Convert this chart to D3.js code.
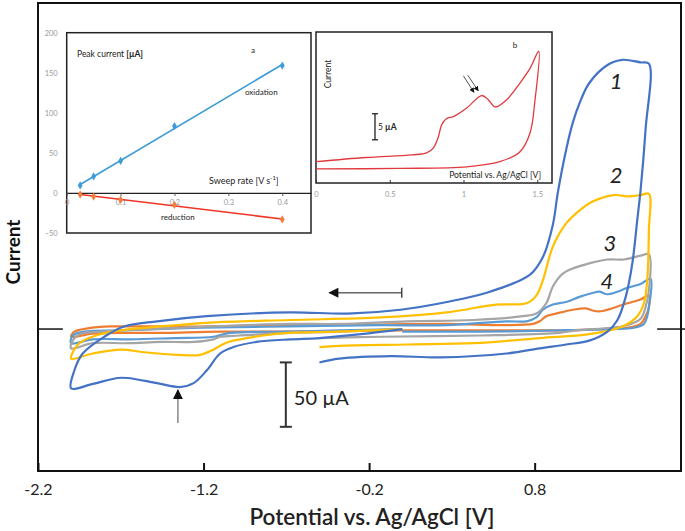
<!DOCTYPE html>
<html>
<head>
<meta charset="utf-8">
<script src="https://cdn.jsdelivr.net/npm/d3@7"></script>
<style>
  body { margin: 0; background: #fff; }
  svg { display: block; font-family: Lato, 'Open Sans', sans-serif; }
</style>
</head>
<body>
<svg id="chart" width="685" height="531"></svg>
<script>
// main voltammograms, [potential V, current uA]
const cv1 = [[0, 0], [-0.25, -4], [-0.5, -7], [-0.68, -8], [-0.88, -10], [-1.02, -14], [-1.10, -19], [-1.18, -32], [-1.26, -42], [-1.34, -45], [-1.48, -42], [-1.66, -38], [-1.72, -38], [-1.88, -43], [-2.0, -46], [-1.98, -32], [-1.93, -19], [-1.80, -6], [-1.68, 2], [-1.48, 6], [-1.18, 10], [-0.68, 13], [-0.33, 12], [-0.01, 15], [0.27, 21], [0.53, 29], [0.77, 42], [0.85, 56], [0.91, 81], [0.94, 106], [0.99, 139], [1.03, 160], [1.07, 175], [1.13, 191], [1.24, 205], [1.33, 209], [1.44, 207], [1.49, 206], [1.47, 155], [1.44, 108], [1.42, 85], [1.39, 51], [1.35, 25], [1.30, 7], [1.24, -2], [1.13, -9], [0.99, -12], [0.83, -15], [0.63, -19], [0.23, -22], [-0.07, -21], [-0.38, -23], [-0.5, -26]];
const cv2 = [[0, 0], [-0.38, -2], [-0.68, -3], [-0.84, -5], [-0.98, -8], [-1.05, -10], [-1.10, -13], [-1.14, -16], [-1.22, -20], [-1.36, -20], [-1.56, -18], [-1.70, -16], [-1.87, -19], [-2.0, -23], [-1.99, -18], [-1.95, -11], [-1.85, -5], [-1.70, -1], [-1.46, 2], [-1.16, 5], [-0.68, 7], [-0.13, 9], [0.27, 13], [0.57, 19], [0.75, 20], [0.81, 26], [0.85, 38], [0.91, 64], [0.99, 82], [1.07, 92], [1.15, 99], [1.28, 104], [1.36, 103], [1.44, 104], [1.49, 105], [1.49, 77], [1.48, 38], [1.46, 20], [1.42, 10], [1.33, 2], [1.13, -4], [0.83, -7], [0.43, -11], [0.03, -12], [-0.38, -13], [-0.5, -14]];
const cv3 = [[0, 0], [-0.38, -2], [-0.68, -3], [-0.98, -5], [-1.10, -6], [-1.14, -8], [-1.26, -10], [-1.46, -10], [-1.66, -11], [-1.87, -11], [-2.0, -15], [-1.99, -9], [-1.95, -4], [-1.82, -2], [-1.52, 0], [-1.16, 2], [-0.68, 4], [-0.38, 4], [0.03, 6], [0.43, 7], [0.73, 10], [0.81, 12], [0.87, 20], [0.91, 33], [0.97, 43], [1.03, 47], [1.13, 51], [1.24, 54], [1.34, 54], [1.44, 57], [1.49, 58], [1.49, 30], [1.47, 17], [1.44, 8], [1.36, 3], [1.26, 1], [1.05, -1], [0.95, -3], [0.47, -5], [-0.13, -6], [-0.5, -7]];
const cv4 = [[0, 0], [-0.38, -1], [-0.68, -2], [-1.04, -3], [-1.14, -6], [-1.38, -7], [-1.64, -8], [-1.87, -8], [-2.0, -11], [-1.99, -5], [-1.92, -2], [-1.70, -1], [-1.22, 1], [-0.68, 2], [-0.13, 3], [0.27, 3], [0.63, 6], [0.75, 6], [0.81, 9], [0.85, 15], [0.91, 19], [0.99, 21], [1.07, 25], [1.15, 28], [1.19, 29], [1.24, 27], [1.30, 29], [1.36, 32], [1.44, 35], [1.50, 39], [1.49, 17], [1.48, 10], [1.46, 4], [1.40, 1], [1.26, 0], [0.95, -1], [0.47, -2], [0.0, -2]];
const cv5 = [[0, -1], [-0.68, -2], [-1.10, -2], [-1.46, -3], [-1.87, -3.5], [-2.0, -6], [-1.98, -2], [-1.90, 0.5], [-1.76, 2], [-1.56, 2], [-1.18, 2], [-0.68, 3], [-0.13, 3.5], [0.27, 4], [0.63, 3], [0.79, 4], [0.83, 6], [0.87, 10], [0.93, 12], [1.03, 15], [1.11, 16], [1.16, 14], [1.21, 14], [1.36, 20], [1.44, 23], [1.49, 26], [1.49, 17], [1.47, 10], [1.44, 4], [1.36, 1], [1.19, 0], [0.95, -1], [0.47, -1], [0.0, -1]];
const cvColors = ['#4472c4', '#ffc000', '#a5a5a5', '#5b9bd5', '#ed7d31'];
const cvLabels = ['1', '2', '3', '4'];
const potentialTicks = [-2.2, -1.2, -0.2, 0.8];

// inset a: peak current vs sweep rate
const sweepRates = [0.025, 0.05, 0.1, 0.2, 0.4];
const oxidationPeaks = [9.4, 20.6, 40, 83.5, 159];
const reductionPeaks = [-2, -4.5, -8.5, -15, -33];
const sweepTicks = [0, 0.1, 0.2, 0.3, 0.4];
const peakTicks = [-50, 0, 50, 100, 150, 200];

// inset b: single scan
const insetScan = [[0, 4.1], [0.34, 4.9], [0.65, 5.4], [0.75, 5.8], [0.795, 6.7], [0.83, 8.9], [0.852, 11.2], [0.886, 12.4], [0.931, 12.75], [1.022, 14.4], [1.123, 16.8], [1.168, 16], [1.214, 14.6], [1.293, 16], [1.383, 19.2], [1.453, 22.1], [1.51, 25.3], [1.485, 16], [1.451, 9.6], [1.383, 6], [1.247, 4.1], [1.022, 3.1], [0.569, 2.8], [0, 2.7]];
const insetTicks = [0, 0.5, 1, 1.5];

const svg = d3.select('#chart');

const defs = svg.append('defs');
[['head', 5, 5], ['headBig', 13, 10]].forEach(([id, w, h]) => {
  defs.append('marker')
    .attr('id', id)
    .attr('viewBox', '0 0 10 10')
    .attr('refX', 9)
    .attr('refY', 5)
    .attr('markerWidth', w)
    .attr('markerHeight', h)
    .attr('markerUnits', 'userSpaceOnUse')
    .attr('orient', 'auto')
    .append('path')
    .attr('d', 'M0,0L10,5L0,10z')
    .attr('fill', '#111');
});

const x = d3.scaleLinear().domain([-2.2, 1.684]).range([38, 681]);
const y = d3.scaleLinear().domain([-110.2, 253.1]).range([471, 3]);

svg.append('rect')
  .attr('x', 38)
  .attr('y', 3)
  .attr('width', 643)
  .attr('height', 468)
  .attr('fill', 'none')
  .attr('stroke', '#111')
  .attr('stroke-width', 2);

const xAxis = svg.append('g')
  .attr('transform', `translate(0,${y.range()[0]})`)
  .call(d3.axisBottom(x)
    .tickValues(potentialTicks)
    .tickSizeInner(-8)
    .tickSizeOuter(0)
    .tickPadding(13)
    .tickFormat(d => d.toFixed(1)))
  .attr('font-family', null)
  .attr('font-size', 16);
xAxis.select('.domain').remove();
xAxis.selectAll('line').attr('stroke', '#111').attr('stroke-width', 2);
xAxis.selectAll('text').attr('fill', '#222');

svg.append('text')
  .attr('x', 372)
  .attr('y', 525)
  .attr('text-anchor', 'middle')
  .attr('font-size', 22.5)
  .attr('font-weight', 600)
  .attr('fill', '#222')
  .text('Potential vs. Ag/AgCl [V]');

svg.append('text')
  .attr('transform', 'translate(20,252) rotate(-90)')
  .attr('text-anchor', 'middle')
  .attr('font-size', 19)
  .attr('font-weight', 700)
  .attr('fill', '#111')
  .text('Current');

// zero current markers outside the curves
[[-2.2, -2.05], [1.54, 1.71]].forEach(([a, b]) => {
  svg.append('line')
    .attr('x1', x(a)).attr('x2', x(b))
    .attr('y1', y(0)).attr('y2', y(0))
    .attr('stroke', '#111')
    .attr('stroke-width', 1.5);
});

const line = d3.line()
  .x(d => x(d[0]))
  .y(d => y(d[1]))
  .curve(d3.curveCatmullRom.alpha(0.5));

const curves = [cv1, cv2, cv3, cv4, cv5];
svg.append('g')
  .selectAll('path')
  .data(curves.map((c, i) => ({ c, i })).reverse())
  .join('path')
  .attr('d', d => line(d.c))
  .attr('fill', 'none')
  .attr('stroke', d => cvColors[d.i])
  .attr('stroke-width', 2.2)
  .attr('stroke-linejoin', 'round');

const labelSpots = [[1.292, 193], [1.292, 120], [1.255, 67.5], [1.237, 37.3]];
svg.append('g')
  .selectAll('text')
  .data(cvLabels)
  .join('text')
  .attr('x', (d, i) => x(labelSpots[i][0]))
  .attr('y', (d, i) => y(labelSpots[i][1]))
  .attr('text-anchor', 'middle')
  .attr('dominant-baseline', 'central')
  .attr('font-size', 22)
  .attr('font-style', 'italic')
  .attr('fill', '#222')
  .text(d => d);

// scan direction arrow
svg.append('line')
  .attr('x1', x(-0.003)).attr('x2', x(-0.44))
  .attr('y1', y(28.2)).attr('y2', y(28.2))
  .attr('stroke', '#666')
  .attr('stroke-width', 1.5)
  .attr('marker-end', 'url(#headBig)');
svg.append('line')
  .attr('x1', x(-0.003)).attr('x2', x(-0.003))
  .attr('y1', y(28.2) - 5).attr('y2', y(28.2) + 5)
  .attr('stroke', '#444')
  .attr('stroke-width', 1.5);

// reduction peak arrow
svg.append('line')
  .attr('x1', x(-1.355)).attr('x2', x(-1.355))
  .attr('y1', y(-73)).attr('y2', y(-47.4))
  .attr('stroke', '#888')
  .attr('stroke-width', 1.5)
  .attr('marker-end', 'url(#headBig)');

// 50 uA scale bar
const bar = svg.append('g').attr('stroke', '#333').attr('stroke-width', 2);
bar.append('line')
  .attr('x1', x(-0.703)).attr('x2', x(-0.703))
  .attr('y1', y(-25.9)).attr('y2', y(-75.9));
[-25.9, -75.9].forEach(v => {
  bar.append('line')
    .attr('x1', x(-0.703) - 6).attr('x2', x(-0.703) + 6)
    .attr('y1', y(v)).attr('y2', y(v));
});
svg.append('text')
  .attr('x', x(-0.703) + 8)
  .attr('y', y(-52.8))
  .attr('dominant-baseline', 'central')
  .attr('font-size', 20)
  .attr('fill', '#222')
  .text('50 \u00b5A');

// inset a
const ax = d3.scaleLinear().domain([0, 0.4533]).range([66.7, 311]);
const ay = d3.scaleLinear().domain([-50, 200]).range([233, 32.7]);
const insetA = svg.append('g');
insetA.append('rect')
  .attr('x', 66.7).attr('y', 32.7)
  .attr('width', 311 - 66.7).attr('height', 233 - 32.7)
  .attr('fill', '#fff')
  .attr('stroke', '#222')
  .attr('stroke-width', 1.5);

const aAxisX = insetA.append('g')
  .attr('transform', `translate(0,${ay(0)})`)
  .call(d3.axisBottom(ax)
    .tickValues(sweepTicks)
    .tickSizeInner(3)
    .tickSizeOuter(0)
    .tickPadding(4)
    .tickFormat(d => d === 0 ? '0' : d.toFixed(1)))
  .attr('font-family', null)
  .attr('font-size', 7.5);
aAxisX.select('.domain').attr('stroke', '#222').attr('stroke-width', 1.2);
aAxisX.selectAll('line').attr('stroke', '#555');
aAxisX.selectAll('text').attr('fill', '#999');

const aAxisY = insetA.append('g')
  .attr('transform', 'translate(66.7,0)')
  .call(d3.axisLeft(ay)
    .tickValues(peakTicks)
    .tickSize(0)
    .tickPadding(9))
  .attr('font-family', null)
  .attr('font-size', 7.5);
aAxisY.select('.domain').remove();
aAxisY.selectAll('text').attr('fill', '#999');

function fit(xs, ys) {
  const mx = d3.mean(xs);
  const my = d3.mean(ys);
  const slope = d3.sum(xs, (v, i) => (v - mx) * (ys[i] - my)) / d3.sum(xs, v => (v - mx) ** 2);
  return v => my + slope * (v - mx);
}

[[oxidationPeaks, '#3d9bd8', '#3d9bd8'], [reductionPeaks, '#ee3526', '#f47c3c']].forEach(([peaks, lineColor, dotColor]) => {
  const f = fit(sweepRates, peaks);
  const ends = d3.extent(sweepRates);
  insetA.append('line')
    .attr('x1', ax(ends[0])).attr('y1', ay(f(ends[0])))
    .attr('x2', ax(ends[1])).attr('y2', ay(f(ends[1])))
    .attr('stroke', lineColor)
    .attr('stroke-width', 1.6);
  insetA.append('g')
    .selectAll('path')
    .data(peaks)
    .join('path')
    .attr('transform', (d, i) => `translate(${ax(sweepRates[i])},${ay(d)})`)
    .attr('d', d3.symbol(d3.symbolDiamond, 20))
    .attr('fill', dotColor);
});

const aText = [
  { t: 'Peak current ', b: '[\u00b5A]', x: 77, y: 54, size: 8.5 },
  { t: 'a', x: 251, y: 50, size: 8 },
  { t: 'oxidation', x: 245, y: 92, size: 8 },
  { t: 'Sweep rate  [V s', sup: '-1', e: ']', x: 209, y: 180, size: 9 },
  { t: 'reduction', x: 161, y: 217, size: 8 }
];
aText.forEach(d => {
  const tx = insetA.append('text')
    .attr('x', d.x)
    .attr('y', d.y)
    .attr('dominant-baseline', 'central')
    .attr('font-size', d.size)
    .attr('fill', '#222')
    .text(d.t);
  if (d.b) tx.append('tspan').attr('font-weight', 700).text(d.b);
  if (d.sup) {
    tx.append('tspan').attr('font-size', d.size * 0.65).attr('dy', -3).text(d.sup);
    tx.append('tspan').attr('dy', 3).text(d.e);
  }
});

// inset b
const bx = d3.scaleLinear().domain([0, 1.6]).range([316, 552]);
const by = d3.scaleLinear().domain([0, 29]).range([183, 32]);
const insetB = svg.append('g');
insetB.append('rect')
  .attr('x', 316).attr('y', 32)
  .attr('width', 552 - 316).attr('height', 183 - 32)
  .attr('fill', '#fff')
  .attr('stroke', '#222')
  .attr('stroke-width', 1.5);

const bAxis = insetB.append('g')
  .attr('transform', 'translate(0,183)')
  .call(d3.axisBottom(bx)
    .tickValues(insetTicks)
    .tickSizeInner(-3)
    .tickSizeOuter(0)
    .tickPadding(9)
    .tickFormat(d => String(d)))
  .attr('font-family', null)
  .attr('font-size', 7.5);
bAxis.select('.domain').remove();
bAxis.selectAll('line').attr('stroke', '#333');
bAxis.selectAll('text').attr('fill', '#999');

insetB.append('path')
  .attr('d', d3.line()
    .x(d => bx(d[0]))
    .y(d => by(d[1]))
    .curve(d3.curveCatmullRom.alpha(0.5))(insetScan))
  .attr('fill', 'none')
  .attr('stroke', '#e0393e')
  .attr('stroke-width', 1.3);

[[[0.999, 20.6], [1.071, 17.4]], [[1.029, 20.7], [1.1, 17.7]]].forEach(([p, q]) => {
  insetB.append('line')
    .attr('x1', bx(p[0])).attr('y1', by(p[1]))
    .attr('x2', bx(q[0])).attr('y2', by(q[1]))
    .attr('stroke', '#555')
    .attr('stroke-width', 1)
    .attr('marker-end', 'url(#head)');
});

const sb = insetB.append('g').attr('stroke', '#222').attr('stroke-width', 1.3);
sb.append('line')
  .attr('x1', bx(0.4)).attr('x2', bx(0.4))
  .attr('y1', by(8.3)).attr('y2', by(13.3));
[8.3, 13.3].forEach(v => {
  sb.append('line')
    .attr('x1', bx(0.4) - 3).attr('x2', bx(0.4) + 3)
    .attr('y1', by(v)).attr('y2', by(v));
});
const sbText = insetB.append('text')
  .attr('x', bx(0.4) + 3)
  .attr('y', by(10.8))
  .attr('dominant-baseline', 'central')
  .attr('font-size', 8.5)
  .attr('fill', '#222')
  .text('5 ');
sbText.append('tspan').attr('font-weight', 700).text('\u00b5A');

insetB.append('text')
  .attr('transform', 'translate(331,74) rotate(-90)')
  .attr('text-anchor', 'middle')
  .attr('font-size', 8.5)
  .attr('fill', '#222')
  .text('Current');

insetB.append('text')
  .attr('x', 515)
  .attr('y', 45)
  .attr('text-anchor', 'middle')
  .attr('dominant-baseline', 'central')
  .attr('font-size', 8)
  .attr('fill', '#222')
  .text('b');

insetB.append('text')
  .attr('x', 541)
  .attr('y', 175)
  .attr('text-anchor', 'end')
  .attr('dominant-baseline', 'central')
  .attr('font-size', 8.5)
  .attr('fill', '#222')
  .text('Potential vs. Ag/AgCl [V]');
</script>
</body>
</html>
